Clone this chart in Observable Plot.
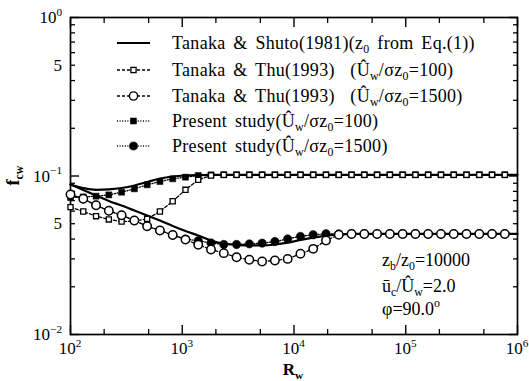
<!DOCTYPE html>
<html><head><meta charset="utf-8">
<script src="https://cdn.jsdelivr.net/npm/d3@7"></script>
<script src="https://cdn.jsdelivr.net/npm/@observablehq/plot@0.6"></script>
<style>body{margin:0;background:#fff} svg{display:block} text{white-space:pre}</style>
</head><body><div id="chart"></div>
<script>
const FONT = "'Liberation Serif','Times New Roman',serif";

// Wave Reynolds number grid (marker positions)
const R = [100, 130.1, 169.3, 220.3, 286.6, 372.8, 485.1, 631.2, 821.2, 1068.5, 1390.2, 1808.9,
  2353.5, 3062, 3984, 5184, 6745, 8776, 11418, 14856, 19330, 25150, 32723, 42576,
  55395, 72074, 93776, 122012, 158752, 206546, 268744, 349663, 454963, 591945, 770184, 1000000];

// Tanaka & Shuto (1981), solid, Uw/σz0 = 100 branch
const shutoUpper = [0.0884, 0.0840, 0.0818, 0.0823, 0.0840, 0.0871, 0.0917, 0.0964, 0.0993, 0.1007, 0.1013, 0.1017,
  0.1017, 0.1017, 0.1017, 0.1017, 0.1017, 0.1017, 0.1017, 0.1017, 0.1017, 0.1017, 0.1017, 0.1017,
  0.1017, 0.1017, 0.1017, 0.1017, 0.1017, 0.1017, 0.1017, 0.1017, 0.1017, 0.1017, 0.1017, 0.1017];
// Tanaka & Shuto (1981), solid, Uw/σz0 = 1500 branch
const shutoLower = [0.0884, 0.0816, 0.0753, 0.0696, 0.0651, 0.0606, 0.0563, 0.0524, 0.0484, 0.0450, 0.0421, 0.0392,
  0.0374, 0.0368, 0.0365, 0.0365, 0.0370, 0.0380, 0.0395, 0.0409, 0.0421, 0.0427, 0.0431, 0.0431,
  0.0431, 0.0431, 0.0431, 0.0431, 0.0431, 0.0431, 0.0431, 0.0431, 0.0431, 0.0431, 0.0431, 0.0431];
// Tanaka & Thu (1993), Uw/σz0 = 100 (open squares)
const thu100 = [0.0636, 0.0597, 0.0558, 0.0532, 0.0516, 0.0519, 0.0537, 0.0597, 0.0693, 0.0818, 0.0946, 0.1007,
  0.1017, 0.1017, 0.1017, 0.1017, 0.1017, 0.1017, 0.1017, 0.1017, 0.1017, 0.1017, 0.1017, 0.1017,
  0.1017, 0.1017, 0.1017, 0.1017, 0.1017, 0.1017, 0.1017, 0.1017, 0.1017, 0.1017, 0.1017, 0.1017];
// Tanaka & Thu (1993), Uw/σz0 = 1500 (open circles)
const thu1500 = [0.0764, 0.0718, 0.0654, 0.0603, 0.0566, 0.0524, 0.0482, 0.0453, 0.0424, 0.0397, 0.0368, 0.0344,
  0.0326, 0.0307, 0.0296, 0.0289, 0.0293, 0.0300, 0.0323, 0.0347, 0.0392, 0.0426, 0.0431, 0.0431,
  0.0431, 0.0431, 0.0431, 0.0431, 0.0431, 0.0431, 0.0431, 0.0431, 0.0431, 0.0431, 0.0431, 0.0431];
// Present study, Uw/σz0 = 100 (filled squares)
const present100 = [0.0731, 0.0738, 0.0746, 0.0760, 0.0790, 0.0830, 0.0880, 0.0923, 0.0960, 0.0983, 0.1007, 0.1017,
  0.1017, 0.1017, 0.1017, 0.1017, 0.1017, 0.1017, 0.1017, 0.1017, 0.1017, 0.1017, 0.1017, 0.1017,
  0.1017, 0.1017, 0.1017, 0.1017, 0.1017, 0.1017, 0.1017, 0.1017, 0.1017, 0.1017, 0.1017, 0.1017];
// Present study, Uw/σz0 = 1500 (filled circles; coincide with open circles at small Rw)
const present1500 = [0.0764, 0.0718, 0.0654, 0.0603, 0.0566, 0.0524, 0.0482, 0.0453, 0.0424, 0.0400, 0.0390, 0.0378,
  0.0370, 0.0370, 0.0373, 0.0377, 0.0386, 0.0401, 0.0416, 0.0426, 0.0432, 0.0431, 0.0431, 0.0431,
  0.0431, 0.0431, 0.0431, 0.0431, 0.0431, 0.0431, 0.0431, 0.0431, 0.0431, 0.0431, 0.0431, 0.0431];

// ticks
const xMajor = [1e2, 1e3, 1e4, 1e5, 1e6];
const xMinor = [2e2, 5e2, 2e3, 5e3, 2e4, 5e4, 2e5, 5e5];
const xTickExp = ["2", "3", "4", "5", "6"];
const yMajor = [1e-2, 1e-1, 1];
const yMinor = [0.02, 0.03, 0.04, 0.05, 0.06, 0.07, 0.08, 0.09, 0.2, 0.3, 0.4, 0.5, 0.6, 0.7, 0.8, 0.9];
const yTickValues = [1, 0.5, 0.1, 0.05, 0.01];
const yTickLabels = [["10", "0"], ["5", ""], ["10", "\u22121"], ["5", ""], ["10", "\u22122"]];

const rows = vals => R.map((r, i) => ({R: r, f: vals[i]}));
const noEdge = d => d.R < 1e6;

const chart = Plot.plot({
  width: 529, height: 381,
  marginLeft: 70, marginRight: 12, marginTop: 17, marginBottom: 47,
  x: {type: "log", domain: [1e2, 1e6]},
  y: {type: "log", domain: [1e-2, 1]},
  style: {fontFamily: FONT, background: "white", color: "black"},
  marks: [
    Plot.axisX({anchor: "bottom", ticks: xMajor, tickSize: -9, tickFormat: () => "", label: null, strokeWidth: 1.4}),
    Plot.axisX({anchor: "bottom", ticks: xMinor, tickSize: -5, tickFormat: () => "", label: null, strokeWidth: 1.3}),
    Plot.axisX({anchor: "top", ticks: xMajor, tickSize: -9, tickFormat: () => "", label: null, strokeWidth: 1.4}),
    Plot.axisX({anchor: "top", ticks: xMinor, tickSize: -5, tickFormat: () => "", label: null, strokeWidth: 1.3}),
    Plot.axisY({anchor: "left", ticks: yMajor, tickSize: -9, tickFormat: () => "", label: null, strokeWidth: 1.4}),
    Plot.axisY({anchor: "left", ticks: yMinor, tickSize: -5, tickFormat: () => "", label: null, strokeWidth: 1.3}),
    Plot.axisY({anchor: "right", ticks: yMajor, tickSize: -9, tickFormat: () => "", label: null, strokeWidth: 1.4}),
    Plot.axisY({anchor: "right", ticks: yMinor, tickSize: -5, tickFormat: () => "", label: null, strokeWidth: 1.3}),
    Plot.frame({stroke: "black", strokeWidth: 1.7}),
    // Present study, dotted + filled
    Plot.line(rows(present100), {x: "R", y: "f", stroke: "black", strokeWidth: 1.3, strokeDasharray: "1,1.6"}),
    Plot.line(rows(present1500), {x: "R", y: "f", stroke: "black", strokeWidth: 1.3, strokeDasharray: "1,1.6"}),
    Plot.dot(rows(present100).filter(noEdge), {x: "R", y: "f", symbol: "square", r: 3.4, fill: "black", stroke: "black", strokeWidth: 0.5}),
    Plot.dot(rows(present1500).filter(noEdge), {x: "R", y: "f", symbol: "circle", r: 4.2, fill: "black", stroke: "black", strokeWidth: 0.5}),
    // Tanaka & Shuto solid curves
    Plot.line(rows(shutoUpper), {x: "R", y: "f", stroke: "black", strokeWidth: 2.2, curve: "monotone-x"}),
    Plot.line(rows(shutoLower), {x: "R", y: "f", stroke: "black", strokeWidth: 2.2, curve: "monotone-x"}),
    // Tanaka & Thu, dashed + open
    Plot.line(rows(thu100), {x: "R", y: "f", stroke: "black", strokeWidth: 1.3, strokeDasharray: "3,2"}),
    Plot.line(rows(thu1500), {x: "R", y: "f", stroke: "black", strokeWidth: 1.3, strokeDasharray: "3,2"}),
    Plot.dot(rows(thu100).filter(noEdge), {x: "R", y: "f", symbol: "square", r: 2.9, fill: "white", stroke: "black", strokeWidth: 1.3}),
    Plot.dot(rows(thu1500).filter(noEdge), {x: "R", y: "f", symbol: "circle", r: 4.2, fill: "white", stroke: "black", strokeWidth: 1.5})
  ]
});
document.getElementById("chart").appendChild(chart);

const svg = d3.select(chart);
const sx = chart.scale("x"), sy = chart.scale("y");

function rich(sel, x, y, segs, {size = 18, anchor = "start", weight = "normal", ls = 0, ws = 0} = {}) {
  const t = sel.append("text").attr("x", x).attr("y", y)
    .attr("text-anchor", anchor).attr("font-size", size).attr("font-weight", weight)
    .attr("font-family", FONT).attr("fill", "black")
    .attr("letter-spacing", ls).attr("word-spacing", ws);
  let cur = 0;
  for (const [s, m] of segs) {
    const shift = m === "sub" ? size * 0.22 : m === "sup" ? -size * 0.42 : 0;
    const ts = t.append("tspan").text(s).attr("dy", shift - cur);
    if (m) ts.attr("font-size", size * 0.66);
    cur = shift;
  }
  return t;
}

// x tick labels
xMajor.forEach((v, i) => {
  rich(svg, sx.apply(v), 354, [["10", ""], [xTickExp[i], "sup"]], {size: 17, anchor: "middle"});
});
// y tick labels
yTickValues.forEach((v, i) => {
  const [b, e] = yTickLabels[i];
  const segs = e ? [[b, ""], [e, "sup"]] : [[b, ""]];
  rich(svg, 62, sy.apply(v) + 6, segs, {size: 17, anchor: "end"});
});
// axis titles
rich(svg, 293, 375, [["R", ""], ["w", "sub"]], {size: 17, anchor: "middle", weight: "bold"});
const yl = svg.append("g").attr("transform", `translate(19,${sy.apply(0.1)}) rotate(-90)`);
rich(yl, 0, 0, [["f", ""], ["cw", "sub"]], {size: 18, anchor: "middle", weight: "bold"});

// legend
const legend = [
  {segs: [["Tanaka & Shuto(1981)(z", ""], ["0", "sub"], [" from Eq.(1))", ""]], dash: null, sym: null},
  {segs: [["Tanaka & Thu(1993)  (\u00DB", ""], ["w", "sub"], ["/\u03C3z", ""], ["0", "sub"], ["=100)", ""]], dash: "3,2", sym: "square", fill: "white"},
  {segs: [["Tanaka & Thu(1993)  (\u00DB", ""], ["w", "sub"], ["/\u03C3z", ""], ["0", "sub"], ["=1500)", ""]], dash: "3,2", sym: "circle", fill: "white"},
  {segs: [["Present study(\u00DB", ""], ["w", "sub"], ["/\u03C3z", ""], ["0", "sub"], ["=100)", ""]], dash: "1,1.6", sym: "square", fill: "black"},
  {segs: [["Present study(\u00DB", ""], ["w", "sub"], ["/\u03C3z", ""], ["0", "sub"], ["=1500)", ""]], dash: "1,1.6", sym: "circle", fill: "black"}
];
const legendY = [43, 70, 96, 121, 146];
legend.forEach((L, i) => {
  const y = legendY[i];
  svg.append("line").attr("x1", 117).attr("x2", 150).attr("y1", y).attr("y2", y)
    .attr("stroke", "black").attr("stroke-width", L.dash ? 1.3 : 2)
    .attr("stroke-dasharray", L.dash);
  if (L.sym === "square") {
    const s = L.fill === "black" ? 6 : 5.2;
    svg.append("rect").attr("x", 133.5 - s / 2).attr("y", y - s / 2).attr("width", s).attr("height", s)
      .attr("fill", L.fill).attr("stroke", "black").attr("stroke-width", L.fill === "black" ? 0.5 : 1.3);
  } else if (L.sym === "circle") {
    svg.append("circle").attr("cx", 133.5).attr("cy", y).attr("r", 4.1)
      .attr("fill", L.fill).attr("stroke", "black").attr("stroke-width", L.fill === "black" ? 0.5 : 1.4);
  }
  rich(svg, 172, y + 6, L.segs, {size: 18, ls: 0.3, ws: 3});
});

// annotations
rich(svg, 382, 266, [["z", ""], ["b", "sub"], ["/z", ""], ["0", "sub"], ["=10000", ""]], {size: 18});
rich(svg, 382, 292, [["\u016B", ""], ["c", "sub"], ["/\u00DB", ""], ["w", "sub"], ["=2.0", ""]], {size: 18});
rich(svg, 382, 315, [["\u03C6=90.0", ""], ["o", "sup"]], {size: 18});
</script>
</body></html>
